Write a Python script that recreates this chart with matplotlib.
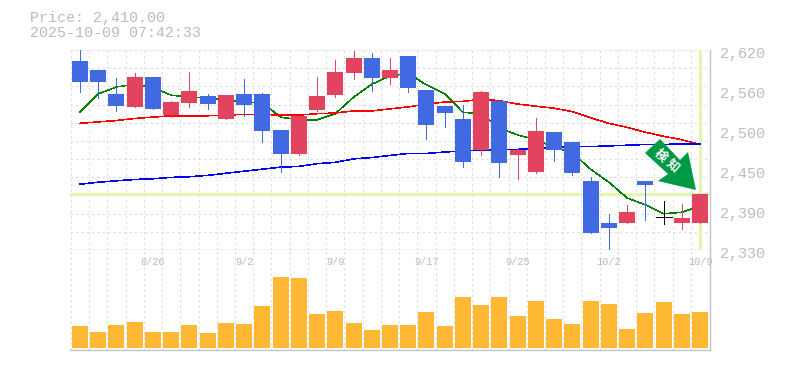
import numpy as np
import matplotlib
matplotlib.use('Agg')
import matplotlib.pyplot as plt
from matplotlib.patches import Polygon
from matplotlib.transforms import Affine2D

opens = [2604, 2591, 2556, 2537, 2581, 2525, 2543, 2553, 2519, 2556, 2556, 2503, 2468, 2532, 2554, 2586, 2608, 2579,
         2611, 2562, 2538, 2519, 2474, 2546, 2467, 2442, 2500, 2486, 2429, 2367, 2367, 2429, 2376, 2367, 2367]
closes = [2573, 2573, 2538, 2581, 2534, 2544, 2560, 2541, 2554, 2540, 2502, 2468, 2524, 2553, 2588, 2608, 2579, 2591,
          2565, 2510, 2528, 2456, 2559, 2455, 2474, 2502, 2474, 2440, 2353, 2360, 2383, 2423, 2376, 2375, 2410]
highs = [2620, 2591, 2579, 2586, 2581, 2546, 2588, 2556, 2554, 2578, 2557, 2503, 2524, 2581, 2605, 2619, 2616, 2608,
         2611, 2562, 2538, 2540, 2560, 2546, 2477, 2521, 2500, 2486, 2435, 2381, 2394, 2429, 2400, 2395, 2410]
lows = [2558, 2550, 2531, 2537, 2534, 2522, 2537, 2534, 2519, 2524, 2486, 2442, 2467, 2531, 2551, 2578, 2560, 2570,
        2559, 2490, 2508, 2449, 2467, 2435, 2432, 2440, 2458, 2437, 2353, 2329, 2367, 2372, 2366, 2359, 2367]

ma_short = [2529, 2556, 2566, 2570, 2565, 2554, 2551, 2550, 2547, 2544, 2543, 2522, 2518, 2518, 2527, 2551, 2570, 2582,
            2586, 2569, 2556, 2529, 2527, 2506, 2496, 2489, 2478, 2470, 2446, 2427, 2404, 2394, 2381, 2383, 2392]
ma_mid = [2513, 2515, 2517, 2520, 2522, 2524, 2524, 2524, 2525, 2526, 2526, 2525, 2525, 2527, 2528, 2531, 2531, 2534,
          2537, 2541, 2544, 2545, 2548, 2546, 2541, 2538, 2535, 2530, 2521, 2513, 2507, 2500, 2494, 2489, 2482]
ma_long = [2424, 2427, 2429, 2431, 2432, 2434, 2435, 2437, 2440, 2443, 2446, 2449, 2450, 2454, 2456, 2461, 2463, 2466,
           2469, 2469, 2471, 2473, 2474, 2474, 2475, 2476, 2478, 2479, 2479, 2480, 2481, 2482, 2482, 2483, 2483]

volumes = [22, 16, 23, 26, 16, 16, 23, 15, 25, 24, 42, 71, 70, 34, 37, 25, 18, 23,
           23, 36, 22, 51, 43, 51, 32, 47, 29, 24, 47, 44, 19, 35, 46, 34, 36]

date_pos = [4, 9, 14, 19, 24, 29, 34]
date_labels = ['8/26', '9/2', '9/9', '9/17', '9/25', '10/2', '10/9']
price_ticks = [2620, 2561.6, 2503.2, 2444.8, 2386.4, 2328]
price_labels = ['2,620', '2,560', '2,500', '2,450', '2,390', '2,330']
last_price = 2410

GREY = '#bbbbbb'
GRID = '#e0e0e0'
FRAME = '#c4c4c4'
HILITE = '#e3f5ae'
UP = '#e2445f'
DOWN = '#4169e1'
FONT = 'Liberation Mono'
CJK = ['Noto Sans CJK JP', 'DejaVu Sans']

x = np.arange(len(opens))
fig = plt.figure(figsize=(7.85, 3.7), dpi=100)
ax = fig.add_axes([70 / 785, 120 / 370, 640 / 785, 200 / 370])
vol = fig.add_axes([70 / 785, 20 / 370, 640 / 785, 100 / 370])

for a in (ax, vol):
    a.set_xlim(-0.548, 34.548)
    a.set_xticks(x - 0.5)
    a.tick_params(length=0, labelbottom=False, labelleft=False)
    a.grid(True, color=GRID, linewidth=0.8, linestyle=(0, (2.4, 2.4)), axis='x')
    a.set_axisbelow(True)
    for s in a.spines.values():
        s.set_visible(False)
    a.spines['right'].set_visible(True)
    a.spines['right'].set_color(FRAME)
    a.spines['right'].set_linewidth(1.0)

# candle panel
ax.set_ylim(2328, 2620)
ax.set_yticks(np.linspace(2328, 2620, 12))
ax.grid(True, color=GRID, linewidth=0.8, linestyle=(0, (2.4, 2.4)), axis='y')
ax.spines['bottom'].set_visible(True)
ax.spines['bottom'].set_color(FRAME)
ax.spines['bottom'].set_linewidth(1.0)

ax.axhline(last_price, color=HILITE, linewidth=2.2, zorder=1.5)
ax.axvline(x[-1], color=HILITE, linewidth=2.2, zorder=1.5)

for i in x:
    c = UP if closes[i] > opens[i] else DOWN
    if closes[i] == opens[i]:
        c = 'black'
        ax.hlines(closes[i], i - 0.44, i + 0.44, color=c, linewidth=0.72, zorder=3, antialiased=False)
    ax.vlines(i, lows[i], highs[i], color=c, linewidth=0.72, zorder=3, antialiased=False)
    ax.bar(i, abs(closes[i] - opens[i]), bottom=min(opens[i], closes[i]), width=0.88, color=c, zorder=3,
           antialiased=False)

ax.plot(x, ma_short, color='#008000', linewidth=0.35, zorder=2.5, antialiased=False)
ax.plot(x, ma_mid, color='#ff0000', linewidth=0.4, zorder=2.5, antialiased=False)
ax.plot(x, ma_long, color='#0000ff', linewidth=0.4, zorder=2.5, antialiased=False)

# volume panel
vol.set_ylim(-2, 98)
vol.set_yticks([])
vol.spines['bottom'].set_visible(True)
vol.spines['bottom'].set_color(FRAME)
vol.spines['bottom'].set_linewidth(1.0)
vol.bar(x, volumes, width=0.88, color='#ffb833', zorder=3, antialiased=False)

for p, t in zip(date_pos, date_labels):
    vol.annotate(t, (p, 98), xytext=(0, -8.6), textcoords='offset points', ha='center', va='center',
                 color=GREY, fontsize=7.4, family=FONT, zorder=4, annotation_clip=False)
for p, t in zip(price_ticks, price_labels):
    ax.annotate(t, (34.548, p), xytext=(7, -2.6), textcoords='offset points', ha='left', va='center',
                color=GREY, fontsize=10.8, family=FONT, annotation_clip=False)

fig.text(30 / 785, 1 - 18 / 370, 'Price: 2,410.00', color=GREY, fontsize=10.8, family=FONT, va='center')
fig.text(30 / 785, 1 - 33 / 370, '2025-10-09 07:42:33', color=GREY, fontsize=10.8, family=FONT, va='center')

# signal arrow, outline relative to its tip in pixels
arrow = [(0, 0), (-38, 9), (-28, 16), (-51, 37), (-36, 51), (-16, 30), (-8, 38)]
tip = ax.transData.transform((33.78, 2415.6))
ax.add_patch(Polygon(arrow, closed=True, facecolor='#009944', edgecolor='none', zorder=5, clip_on=False,
                     transform=Affine2D().translate(tip[0], tip[1])))
fig.text(660.7 / 785, 1 - 155.7 / 370, '検', color='white', fontsize=9, fontweight='bold', rotation=-42,
         ha='center', va='center', family=CJK, zorder=6)
fig.text(672.7 / 785, 1 - 166 / 370, '知', color='white', fontsize=9, fontweight='bold', rotation=-42,
         ha='center', va='center', family=CJK, zorder=6)

plt.savefig('out.png', dpi=100)
